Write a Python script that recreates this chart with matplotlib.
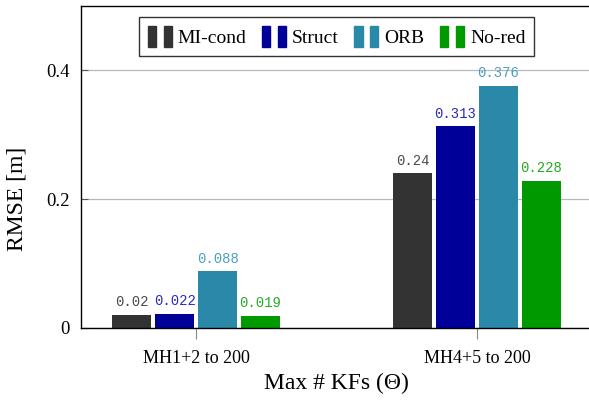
import numpy as np
import matplotlib
matplotlib.use("Agg")
import matplotlib.pyplot as plt
from matplotlib.patches import Patch
from matplotlib.legend_handler import HandlerTuple

# ---------------------------------------------------------------
#  data
# ---------------------------------------------------------------
groups  = ["MH1+2 to 200", "MH4+5 to 200"]
methods = ["MI-cond", "Struct", "ORB", "No-red"]
rmse = {
    "MI-cond": [0.020, 0.240],
    "Struct":  [0.022, 0.313],
    "ORB":     [0.088, 0.376],
    "No-red":  [0.019, 0.228],
}
value_text = {
    "MI-cond": ["0.02", "0.24"],
    "Struct":  ["0.022", "0.313"],
    "ORB":     ["0.088", "0.376"],
    "No-red":  ["0.019", "0.228"],
}
bar_color   = {"MI-cond": "#333333", "Struct": "#000099", "ORB": "#2a88a8", "No-red": "#009900"}
label_color = {"MI-cond": "#4a4a4a", "Struct": "#2a2ac0", "ORB": "#4aa0c0", "No-red": "#22aa22"}

plt.rcParams.update({"font.family": ["Liberation Serif", "DejaVu Serif"]})

fig = plt.figure(figsize=(5.89, 4.0), dpi=100)
ax = fig.add_axes([81 / 589, 72 / 400, 511 / 589, 322 / 400])

x = np.arange(len(groups))
width, pitch = 0.139, 0.153
for i, m in enumerate(methods):
    xs = x + (i - 1.5) * pitch
    ax.bar(xs, rmse[m], width=width, color=bar_color[m], zorder=2)
    for xx, v, t in zip(xs, rmse[m], value_text[m]):
        ax.text(xx, v + 0.009, t, ha="center", va="bottom", fontsize=10,
                family="Liberation Mono", color=label_color[m])

ax.set_xlim(-0.41, 1.41)
ax.set_ylim(0, 0.5)
ax.set_xticks(x)
ax.set_xticklabels(groups)
ax.set_yticks([0, 0.2, 0.4])
ax.set_yticklabels(["0", "0.2", "0.4"])
ax.tick_params(axis="x", direction="out", length=8, width=0.8, color="#888888",
               labelsize=13, pad=8)
ax.tick_params(axis="y", direction="in", length=5, width=0.8, color="#555555",
               labelsize=13.5, pad=8)
ax.yaxis.grid(True, color="#b8b8b8", lw=0.9, zorder=0)
ax.set_axisbelow(True)
for s in ax.spines.values():
    s.set_color("black")
    s.set_linewidth(1.0)

ax.set_xlabel("Max # KFs (Θ)", fontsize=17, labelpad=4)
ax.set_ylabel("RMSE [m]", fontsize=17)
ax.yaxis.set_label_coords(-0.105, 0.40)

handles = [(Patch(color=bar_color[m]), Patch(color=bar_color[m])) for m in methods]
leg = ax.legend(handles, methods, loc="upper center", bbox_to_anchor=(0.5, 0.965),
                ncol=4, fontsize=14, frameon=True, fancybox=False, framealpha=1,
                edgecolor="#333333", handler_map={tuple: HandlerTuple(ndivide=None, pad=0.4)},
                handlelength=1.24, handleheight=1.25, handletextpad=0.3,
                columnspacing=0.8, borderpad=0.45, borderaxespad=0)
leg.get_frame().set_linewidth(1.0)

fig.savefig("out.png", dpi=100)
